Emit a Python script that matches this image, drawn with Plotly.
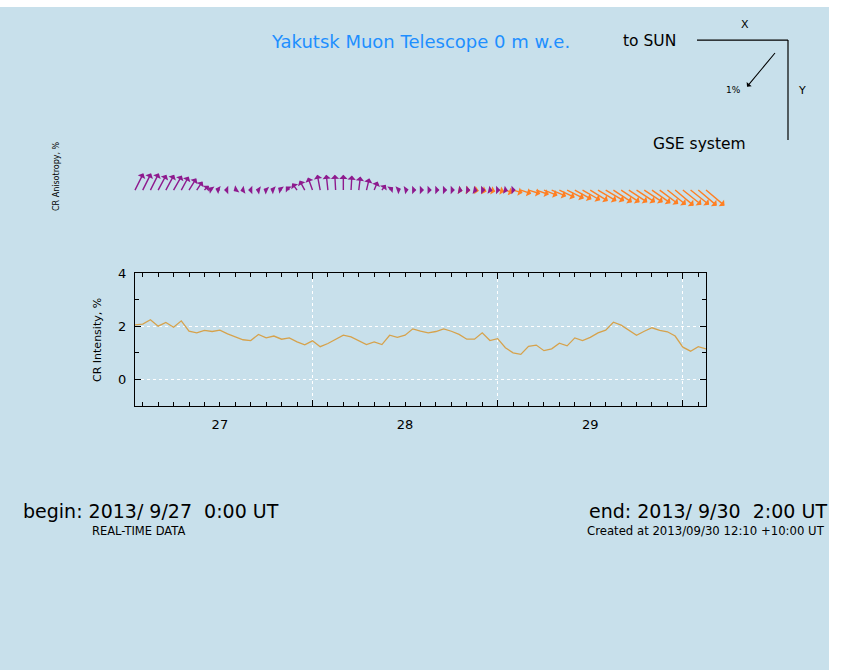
import plotly.graph_objects as go
import pandas as pd

W, H = 844, 670
BG = "#c8e0eb"


def fx(p):
    """pixel column -> paper x"""
    return p / W


def fy(p):
    """pixel row -> paper y"""
    return 1 - p / H


# ---- hourly CR intensity (%) from 2013-09-27 01:00 UT ----
start = pd.Timestamp("2013-09-27 00:00")
int_hours = list(range(1, 76))
intensity = [
    2.05, 2.08, 2.24, 2.00, 2.14, 1.96, 2.20, 1.81, 1.75, 1.84,
    1.80, 1.85, 1.71, 1.59, 1.49, 1.46, 1.69, 1.56, 1.63, 1.51,
    1.56, 1.41, 1.30, 1.45, 1.23, 1.35, 1.50, 1.66, 1.60, 1.46,
    1.31, 1.41, 1.31, 1.66, 1.58, 1.66, 1.90, 1.81, 1.75, 1.80,
    1.90, 1.81, 1.69, 1.51, 1.51, 1.75, 1.46, 1.53, 1.19, 1.00,
    0.94, 1.24, 1.29, 1.08, 1.15, 1.36, 1.26, 1.56, 1.46, 1.58,
    1.75, 1.85, 2.15, 2.04, 1.86, 1.66, 1.81, 1.94, 1.84, 1.79,
    1.63, 1.21, 1.06, 1.23, 1.15,
]

# ---- CR anisotropy vectors, GSE components (%) ----
purple_hours = list(range(1, 51))
purple_ax = [
    -0.20, -0.20, -0.20, -0.20, -0.20, -0.20, -0.18, -0.18, -0.15, -0.13,
    0.11, 0.13, 0.11, 0.07, 0.09, 0.09, 0.09, 0.09, 0.11, 0.11,
    0.11, 0.13, 0.13, 0.11, 0.07, 0.04, 0.02, 0.00, -0.02, -0.04,
    -0.07, -0.09, -0.11, -0.11, -0.11, -0.11, -0.11, -0.11, -0.11, -0.11,
    -0.11, -0.11, -0.11, -0.11, -0.10, -0.10, -0.09, -0.09, -0.09, -0.09,
]
purple_ay = [
    -0.40, -0.40, -0.40, -0.37, -0.37, -0.35, -0.33, -0.29, -0.22, -0.13,
    -0.07, -0.04, 0.00, 0.04, 0.02, 0.00, -0.02, -0.04, -0.04, -0.07,
    -0.11, -0.18, -0.24, -0.31, -0.37, -0.37, -0.37, -0.37, -0.35, -0.33,
    -0.29, -0.22, -0.15, -0.09, -0.04, -0.02, 0.00, 0.00, 0.00, 0.00,
    0.00, 0.00, 0.02, 0.00, 0.02, 0.00, 0.02, 0.00, 0.02, 0.00,
]
orange_hours = list(range(43, 76))
orange_ax = [
    -0.11, -0.11, -0.13, -0.13, -0.15, -0.18, -0.20, -0.24, -0.26, -0.29,
    -0.31, -0.33, -0.35, -0.37, -0.40, -0.40, -0.42, -0.42, -0.44, -0.44,
    -0.44, -0.44, -0.44, -0.44, -0.44, -0.44, -0.44, -0.44, -0.44, -0.44,
    -0.44, -0.44, -0.44,
]
orange_ay = [
    0.02, 0.02, 0.02, 0.04, 0.04, 0.04, 0.07, 0.07, 0.09, 0.09,
    0.11, 0.13, 0.15, 0.18, 0.20, 0.22, 0.24, 0.26, 0.26, 0.26,
    0.29, 0.29, 0.29, 0.29, 0.29, 0.31, 0.33, 0.35, 0.37, 0.35,
    0.35, 0.37, 0.37,
]
ref_vector = (0.64, 0.77)  # 1 % reference arrow

PX_PER_PCT = 45.6   # arrow length of 1 %
BASE_ROW = 185      # baseline of the vector strip

FONT = "DejaVu Sans"
PURPLE = "#8e1a8e"
ORANGE = "#ff7f22"

times = [start + pd.Timedelta(hours=h) for h in int_hours]

fig = go.Figure()
fig.add_trace(go.Scatter(
    x=times, y=intensity, mode="lines",
    line=dict(color="#d6a24c", width=1.3),
    hoverinfo="skip",
))

annotations = []


def vector(hour, ax_pct, ay_pct, color):
    # GSE: X points left (to the Sun), Y points down
    return dict(
        x=start + pd.Timedelta(hours=hour), y=fy(BASE_ROW),
        xref="x", yref="paper",
        ax=-ax_pct * PX_PER_PCT, ay=ay_pct * PX_PER_PCT,
        axref="pixel", ayref="pixel",
        text="", showarrow=True, arrowside="start",
        arrowhead=2, arrowsize=0.7, arrowwidth=1.4,
        arrowcolor=color, standoff=0, startstandoff=0,
    )


for h, a, b in zip(orange_hours, orange_ax, orange_ay):
    annotations.append(vector(h, a, b, ORANGE))
for h, a, b in zip(purple_hours, purple_ax, purple_ay):
    annotations.append(vector(h, a, b, PURPLE))

# 1 % scale arrow in the GSE key
annotations.append(dict(
    x=fx(775), y=fy(46.5), xref="paper", yref="paper",
    ax=-ref_vector[0] * PX_PER_PCT, ay=ref_vector[1] * PX_PER_PCT,
    axref="pixel", ayref="pixel",
    text="", showarrow=True, arrowside="start",
    arrowhead=2, arrowsize=1.4, arrowwidth=1.1,
    arrowcolor="black", standoff=0, startstandoff=0,
))


def label(text, x, y, size, xanchor="left", color="black", angle=0):
    return dict(
        text=text, x=fx(x), y=fy(y), xref="paper", yref="paper",
        xanchor=xanchor, yanchor="middle", showarrow=False,
        textangle=angle, font=dict(family=FONT, size=size, color=color),
    )


NB = "\u00a0"
annotations += [
    label("Yakutsk Muon Telescope 0 m w.e.", 420, 34.4, 18, "center", "#1e8fff"),
    label("to SUN", 621, 34.4, 15.5),
    label("X", 745, 17.2, 11, "center"),
    label("Y", 802, 84, 11, "center"),
    label("1%", 733, 84, 9, "center"),
    label("GSE system", 651, 138.5, 15.5),
    label("CR Anisotropy, %", 56, 170.8, 8, "center", angle=-90),
    label("CR Intensity, %", 98, 336.5, 11, "center", angle=-90),
    label(f"begin: 2013/ 9/27 {NB}0:00 UT", 21, 509.3, 19),
    label("REAL-TIME DATA", 90, 529.5, 11.5),
    label(f"end: 2013/ 9/30 {NB}2:00 UT", 829, 509.3, 19, "right"),
    label("Created at 2013/09/30 12:10 +10:00 UT", 827, 529.5, 11.7, "right"),
]

shapes = [
    dict(type="rect", xref="paper", yref="paper", x0=0, x1=fx(829), y0=0, y1=1,
         fillcolor=BG, line=dict(width=0), layer="below"),
    dict(type="line", xref="paper", yref="paper", x0=fx(697), x1=fx(788),
         y0=fy(33.4), y1=fy(33.4), line=dict(color="black", width=1.2)),
    dict(type="line", xref="paper", yref="paper", x0=fx(788), x1=fx(788),
         y0=fy(33.4), y1=fy(134.5), line=dict(color="black", width=1.2)),
]

fig.update_layout(
    width=W, height=H,
    margin=dict(l=0, r=0, t=0, b=0),
    paper_bgcolor="white", plot_bgcolor=BG,
    showlegend=False,
    annotations=annotations, shapes=shapes,
    xaxis=dict(
        domain=[fx(135), fx(706)],
        type="date",
        range=[times[0], times[-1]],
        dtick=86400000, tick0="2013-09-27", tickformat="%d",
        ticklabelmode="period",
        ticks="inside", ticklen=6, tickcolor="black",
        ticklabelstandoff=6,
        showline=True, linecolor="black", linewidth=1, mirror="ticks",
        showgrid=True, gridcolor="white", griddash="dot", gridwidth=1,
        zeroline=False,
        minor=dict(dtick=7200000, ticks="inside", ticklen=4,
                   tickcolor="black", showgrid=False),
        tickfont=dict(family=FONT, size=13, color="black"),
    ),
    yaxis=dict(
        domain=[fy(403.2), fy(268.8)],
        range=[-1, 4], dtick=2, tick0=0,
        ticks="inside", ticklen=6, tickcolor="black",
        ticklabelstandoff=5,
        showline=True, linecolor="black", linewidth=1, mirror="ticks",
        showgrid=True, gridcolor="white", griddash="dot", gridwidth=1,
        zeroline=False,
        minor=dict(dtick=1, ticks="inside", ticklen=4,
                   tickcolor="black", showgrid=False),
        tickfont=dict(family=FONT, size=13, color="black"),
    ),
)

fig.write_html("out.html")
